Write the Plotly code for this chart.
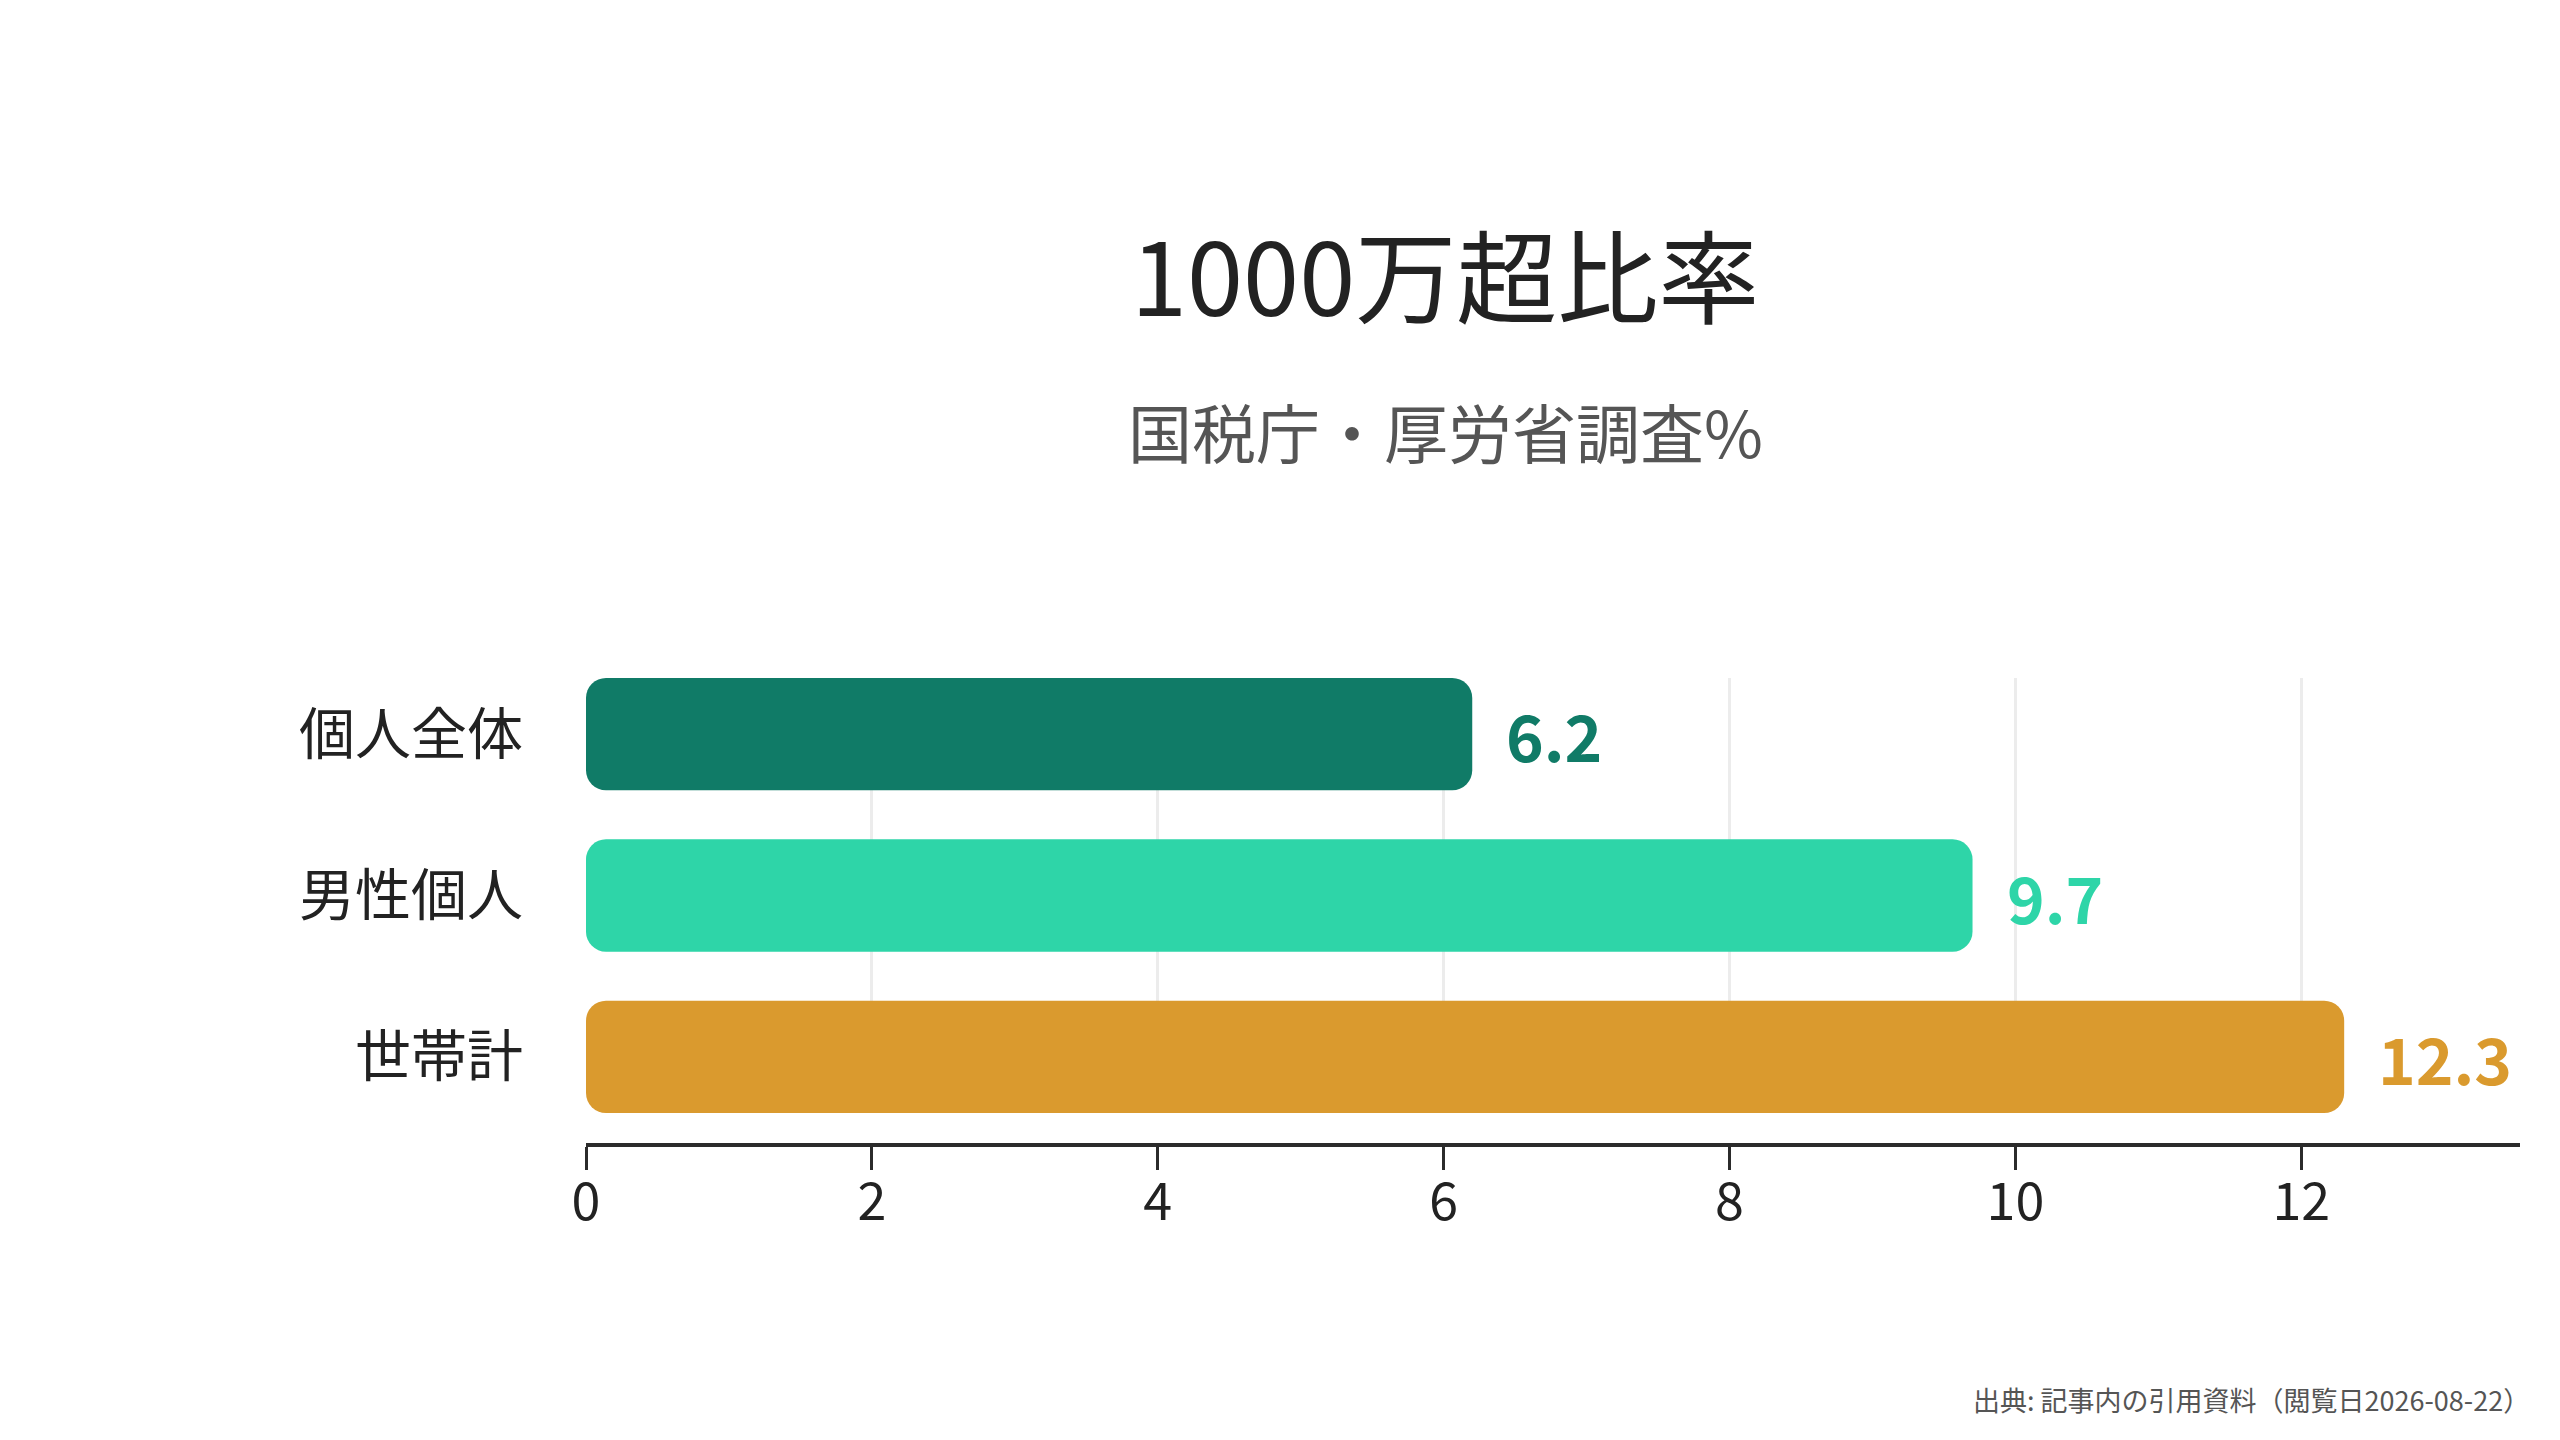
import plotly.graph_objects as go

# ---- data ----
categories = ["個人全体", "男性個人", "世帯計"]
values = [6.2, 9.7, 12.3]
colors = ["#107B67", "#2ED5A8", "#DA9A2E"]
x_ticks = [0, 2, 4, 6, 8, 10, 12]

title_text = "1000万超比率"
subtitle_text = "国税庁・厚労省調査%"
source_text = "出典: 記事内の引用資料（閲覧日2026-08-22）"

FONT = "Noto Sans CJK JP"
W, H = 2560, 1440

fig = go.Figure()

# A bar with an explicit base gets rounded corners at both ends.
fig.add_trace(go.Bar(
    y=categories, x=values, base=[0] * len(values), orientation="h",
    marker=dict(color=colors, cornerradius=20, line=dict(width=0)),
    showlegend=False, hovertemplate="%{y}: %{x}<extra></extra>",
))

# value labels
for cat, v, c in zip(categories, values, colors):
    fig.add_annotation(
        x=v, y=cat, xref="x", yref="y", text=f"{v:.1f}",
        xanchor="left", yanchor="middle", xshift=32, showarrow=False,
        font=dict(family=FONT, size=64, color=c, weight=700),
    )

# title / subtitle / source
fig.add_annotation(
    x=1445 / W, y=1 - 272 / H, xref="paper", yref="paper", text=title_text,
    showarrow=False, xanchor="center", yanchor="middle",
    font=dict(family=FONT, size=101, color="#222222"),
)
fig.add_annotation(
    x=1445 / W, y=1 - 430 / H, xref="paper", yref="paper", text=subtitle_text,
    showarrow=False, xanchor="center", yanchor="middle",
    font=dict(family=FONT, size=64, color="#555555"),
)
fig.add_annotation(
    x=2532 / W, y=1 - 1399 / H, xref="paper", yref="paper", text=source_text,
    showarrow=False, xanchor="right", yanchor="middle",
    font=dict(family=FONT, size=27, color="#555555"),
)

fig.update_layout(
    width=W, height=H,
    margin=dict(l=0, r=0, t=0, b=0, autoexpand=False),
    paper_bgcolor="white", plot_bgcolor="white",
    barmode="overlay", bargap=0.304,
    font=dict(family=FONT, color="#222222"),
    xaxis=dict(
        domain=[586 / W, 2520 / W], range=[0, 13.53],
        anchor="free", position=1 - 1145 / H, automargin=False,
        tickmode="array", tickvals=x_ticks, ticktext=[str(t) for t in x_ticks],
        showgrid=True, gridcolor="#ECECEC", gridwidth=2.5,
        zeroline=False,
        showline=True, linecolor="#2B2B2B", linewidth=3.5,
        ticks="outside", ticklen=23, tickwidth=2.5, tickcolor="#2B2B2B",
        tickfont=dict(family=FONT, size=52, color="#222222"),
        ticklabelstandoff=-12,
    ),
    yaxis=dict(
        domain=[1 - 1113 / H, 1 - 678 / H], automargin=False,
        type="category", categoryorder="array", categoryarray=categories,
        range=[2.348, -0.348],
        showgrid=False, zeroline=False, showline=False, ticks="",
        tickfont=dict(family=FONT, size=56, color="#222222"),
        ticklabelstandoff=62,
    ),
)

fig.write_html(
    "out.html",
    config={"displayModeBar": False},
    post_script="document.body.style.margin='0';document.body.style.overflow='hidden';",
)
